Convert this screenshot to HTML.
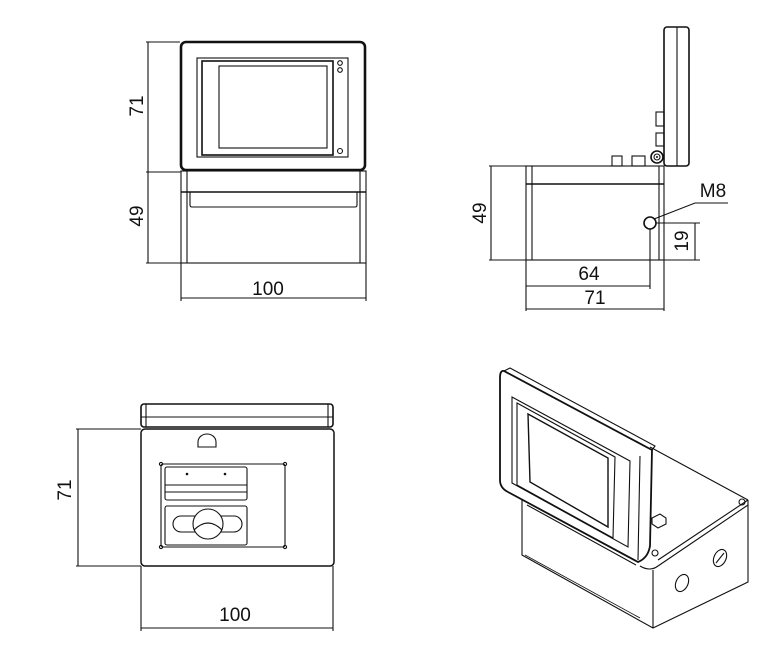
<!DOCTYPE html>
<html><head><meta charset="utf-8"><style>
html,body{margin:0;padding:0;background:#fff}
svg{display:block}
text{font-family:"Liberation Sans",sans-serif;font-size:19px;fill:#111}
</style></head><body>
<svg width="761" height="671" viewBox="0 0 761 671" xmlns="http://www.w3.org/2000/svg">
<g fill="none" stroke="#111" stroke-width="1.1">
<!-- FRONT VIEW -->
<rect x="181" y="42" width="184" height="128" rx="5" stroke-width="2.6"/>
<rect x="197" y="58" width="151" height="99"/>
<rect x="202" y="61" width="131" height="94" stroke-width="1.6"/>
<rect x="219" y="66" width="108" height="82"/>
<circle cx="340" cy="63" r="2.3"/><circle cx="340" cy="70" r="2.3"/><circle cx="340" cy="151" r="2.5"/>
<rect x="181" y="171" width="185" height="92"/>
<line x1="187" y1="171" x2="187" y2="263"/><line x1="360" y1="171" x2="360" y2="263"/>
<line x1="181" y1="192" x2="366" y2="192" stroke-width="1.6"/>
<path d="M190 192 V205 Q190 207 192 207 H355 Q357 207 357 205 V192"/>
<line x1="148" y1="42" x2="148" y2="263"/>
<line x1="146" y1="42" x2="180" y2="42"/><line x1="146" y1="172" x2="181" y2="172"/><line x1="146" y1="263" x2="181" y2="263"/>
<line x1="181" y1="263" x2="181" y2="301"/><line x1="366" y1="263" x2="366" y2="301"/>
<line x1="181" y1="298" x2="366" y2="298"/>

<!-- SIDE VIEW -->
<rect x="526" y="166" width="138" height="94"/>
<line x1="532" y1="166" x2="532" y2="260"/><line x1="659" y1="166" x2="659" y2="260"/>
<line x1="526" y1="184" x2="664" y2="184" stroke-width="1.5"/>
<rect x="664" y="27" width="25" height="139" rx="3" stroke-width="1.6"/>
<line x1="677" y1="27" x2="677" y2="166"/>
<circle cx="657" cy="157" r="6" stroke-width="1.6"/><circle cx="657" cy="157" r="3"/>
<rect x="656" y="112" width="8" height="14"/><rect x="656" y="133" width="8" height="13"/>
<rect x="612" y="156" width="10" height="10"/><rect x="632" y="156" width="13" height="10"/>
<circle cx="650" cy="223" r="6" stroke-width="1.6"/>
<polyline points="654,219 695,203 728,203"/>
<line x1="491" y1="166" x2="491" y2="260"/>
<line x1="489" y1="166" x2="526" y2="166"/><line x1="489" y1="260" x2="700" y2="260"/>
<line x1="695" y1="223" x2="695" y2="260"/><line x1="656" y1="223" x2="700" y2="223"/>
<line x1="526" y1="260" x2="526" y2="311"/><line x1="650" y1="229" x2="650" y2="289"/><line x1="664" y1="260" x2="664" y2="311"/>
<line x1="526" y1="286" x2="650" y2="286"/>
<line x1="526" y1="309" x2="664" y2="309"/>

<!-- BOTTOM VIEW -->
<rect x="141" y="404" width="192" height="23" rx="3" stroke-width="1.6"/>
<line x1="146" y1="404" x2="146" y2="427"/><line x1="328" y1="404" x2="328" y2="427"/>
<line x1="141" y1="417" x2="333" y2="417"/>
<rect x="141" y="429" width="193" height="137" rx="4" stroke-width="1.5"/>
<path d="M198 447 V442 A9 8 0 0 1 216 442 V447 Z"/>
<rect x="161" y="464" width="124" height="83" rx="2"/>
<circle cx="161" cy="464" r="1.6"/><circle cx="285" cy="464" r="1.6"/><circle cx="161" cy="547" r="1.6"/><circle cx="285" cy="547" r="1.6"/>
<rect x="165" y="467" width="82" height="33" rx="2"/>
<line x1="165" y1="485" x2="247" y2="485"/><line x1="165" y1="492" x2="247" y2="492"/>
<rect x="165" y="506" width="82" height="39" rx="2"/>
<rect x="173" y="516" width="69" height="16" rx="8"/>
<circle cx="208" cy="524" r="15" fill="#fff"/>
<path d="M194 530 Q208 516 222 530"/>
<line x1="78" y1="429" x2="78" y2="566"/>
<line x1="76" y1="429" x2="141" y2="429"/><line x1="76" y1="566" x2="141" y2="566"/>
<line x1="141" y1="566" x2="141" y2="631"/><line x1="333" y1="566" x2="333" y2="631"/>
<line x1="141" y1="628" x2="333" y2="628"/>

<!-- ISO VIEW -->
<path d="M522 500 V555 L653 628 L748 582 V500"/>
<line x1="653" y1="570" x2="653" y2="628"/>
<path d="M640 566 Q650 572 658 566 L748 505"/>
<line x1="658" y1="560" x2="748" y2="500"/>
<line x1="650" y1="447" x2="748" y2="500"/>
<circle cx="742" cy="502" r="3"/><circle cx="655" cy="553" r="3"/>
<path d="M525 555 L640 618" stroke-width="0.8"/>
<path d="M527 505 L636 565" />
<ellipse cx="682" cy="583" rx="6" ry="9" transform="rotate(25 682 583)"/>
<ellipse cx="720" cy="558" rx="6" ry="9" transform="rotate(25 720 558)"/>
<line x1="716" y1="563" x2="724" y2="553"/>
<path d="M652 518 l8 -4 l6 4 v6 l-8 4 l-6 -4 z" />
<!-- lid -->
<path d="M504 371 L652 450 L650 546 Q648 558 638 562 L508 492 Q500 488 500 480 V378 Q500 370 504 371 Z" fill="#fff" stroke-width="1.8"/>
<path d="M504 371 L510 368 L655 446 L652 450" />
<line x1="640" y1="456" x2="638" y2="560"/>
<path d="M512 397 L630 461 L628 547 L512 483 Z"/>
<path d="M517 403 L615 457 L613 538 L517 485 Z"/>
<path d="M528 414 L608 458 L608 527 L530 482 Z" stroke-width="1.4"/>
</g>
<g fill="#111"><circle cx="187" cy="474" r="1.3"/><circle cx="225" cy="474" r="1.3"/><circle cx="657" cy="157" r="1"/></g>
<text x="268" y="295" text-anchor="middle">100</text>
<text transform="translate(143,106) rotate(-90)" text-anchor="middle">71</text>
<text transform="translate(143,216) rotate(-90)" text-anchor="middle">49</text>
<text transform="translate(486,213) rotate(-90)" text-anchor="middle">49</text>
<text transform="translate(688,241) rotate(-90)" text-anchor="middle">19</text>
<text x="713" y="197" text-anchor="middle">M8</text>
<text x="589" y="280" text-anchor="middle">64</text>
<text x="595" y="304" text-anchor="middle">71</text>
<text transform="translate(71,490) rotate(-90)" text-anchor="middle">71</text>
<text x="235" y="621" text-anchor="middle">100</text>
</svg>
</body></html>
